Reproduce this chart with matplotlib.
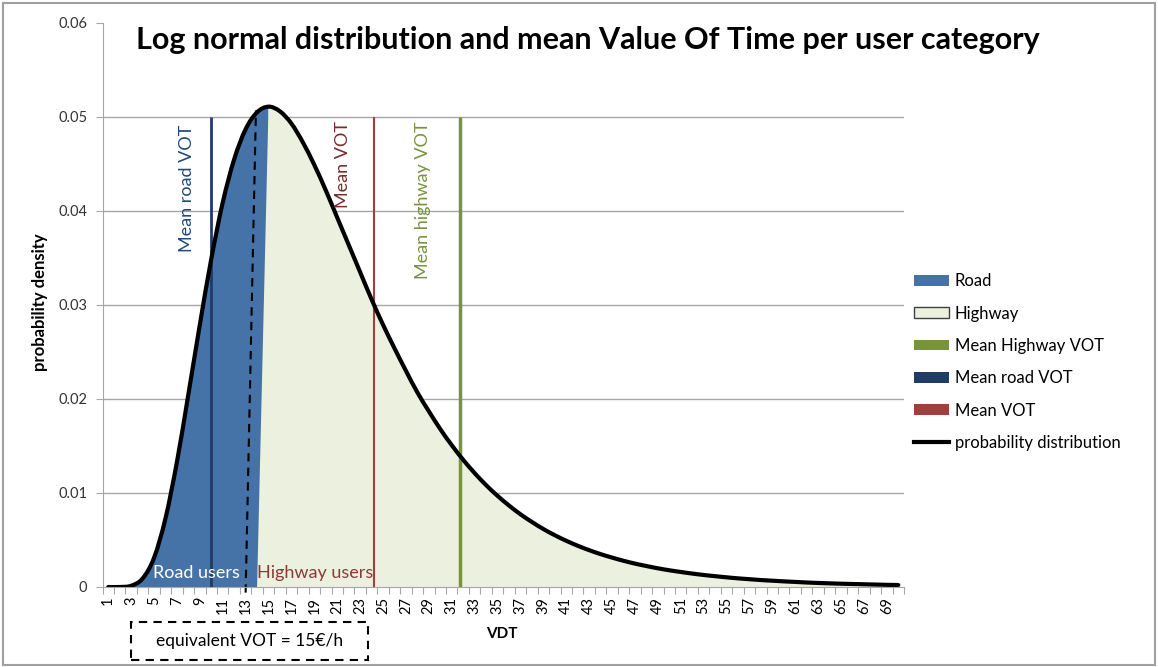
import matplotlib
matplotlib.use("Agg")
import matplotlib.pyplot as plt
from matplotlib.patches import Patch, Rectangle, PathPatch
from matplotlib.lines import Line2D
from matplotlib.path import Path

plt.rcParams['font.family'] = ['Lato', 'DejaVu Sans']

# VDT categories on the x axis and the log normal density
vdt = list(range(1, 71))
density = [0.0000, 0.0000, 0.00013, 0.0009, 0.0031, 0.0073, 0.0133, 0.0205, 0.0279, 0.0349,
           0.0409, 0.0455, 0.0487, 0.0505, 0.0511, 0.0506, 0.0493, 0.0473, 0.0449, 0.0422,
           0.0393, 0.0364, 0.0335, 0.0306, 0.0279, 0.0254, 0.0230, 0.0207, 0.0187, 0.0168,
           0.01509, 0.01353, 0.01212, 0.01084, 0.0097, 0.00867, 0.00774, 0.00692, 0.00617, 0.00551,
           0.00492, 0.00439, 0.00392, 0.0035, 0.00313, 0.00279, 0.00249, 0.00223, 0.00199, 0.00178,
           0.0016, 0.00143, 0.00128, 0.00115, 0.00103, 0.00092, 0.00083, 0.00074, 0.00067, 0.0006,
           0.00054, 0.00048, 0.00043, 0.00039, 0.00035, 0.00032, 0.00029, 0.00026, 0.00023, 0.00021]

split = 15  # road area ends / highway area starts at this category

mean_road_vot = 10.0
mean_vot = 24.2
mean_highway_vot = 31.7
equivalent_vot = (13.0, 13.9)  # dashed line bottom/top position

y_ticks = [0, 0.01, 0.02, 0.03, 0.04, 0.05, 0.06]
y_labels = ['0', '0.01', '0.02', '0.03', '0.04', '0.05', '0.06']

c_road = '#4572A7'
c_highway = '#EBF1DE'
c_hw_line = '#77933C'
c_road_line = '#1F3B66'
c_vot_line = '#A0403C'
grey = '#A6A6A6'


def smooth_segments(xs, ys):
    """Bezier pieces through the points, like the Excel smoothed line."""
    verts, codes = [(xs[0], ys[0])], [Path.MOVETO]
    n = len(xs)
    for i in range(n - 1):
        x0, y0 = xs[max(i - 1, 0)], ys[max(i - 1, 0)]
        x1, y1 = xs[i], ys[i]
        x2, y2 = xs[i + 1], ys[i + 1]
        x3, y3 = xs[min(i + 2, n - 1)], ys[min(i + 2, n - 1)]
        verts += [(x1 + (x2 - x0) / 6, y1 + (y2 - y0) / 6),
                  (x2 - (x3 - x1) / 6, y2 - (y3 - y1) / 6),
                  (x2, y2)]
        codes += [Path.CURVE4] * 3
    return verts, codes


W, H = 1158, 667
fig = plt.figure(figsize=(W / 100, H / 100), dpi=100)
ax = fig.add_axes([102.5 / W, 1 - 587 / H, (904 - 102.5) / W, (587 - 23) / H])

k = vdt.index(split)
# road area: curve up to the split, then down to the axis
rv, rc = smooth_segments(vdt[:k + 1], density[:k + 1])
rv += [(split + 1, 0), (vdt[0], 0), (vdt[0], 0)]
rc += [Path.LINETO, Path.LINETO, Path.CLOSEPOLY]
ax.add_patch(PathPatch(Path(rv, rc), facecolor=c_road, lw=0, zorder=2))
# highway area: from the axis at split-1 up to the curve and along it
hv, hc = smooth_segments(vdt[k:], density[k:])
hv = [(split - 1, 0)] + hv + [(vdt[-1], 0), (split - 1, 0)]
hc = [Path.MOVETO, Path.LINETO] + hc[1:] + [Path.LINETO, Path.CLOSEPOLY]
ax.add_patch(PathPatch(Path(hv, hc), facecolor=c_highway, lw=0, zorder=3))

ax.vlines(mean_road_vot, 0, 0.05, color=c_road_line, lw=2, zorder=4)
ax.vlines(mean_vot, 0, 0.05, color=c_vot_line, lw=1.5, zorder=4)
ax.vlines(mean_highway_vot, 0, 0.05, color=c_hw_line, lw=2.5, zorder=4)
ax.plot(equivalent_vot, [-0.0006, 0.0507], color='black', ls=(0, (4, 3)), lw=1.5,
        zorder=5, clip_on=False)
cv, cc = smooth_segments(vdt, density)
ax.add_patch(PathPatch(Path(cv, cc), facecolor='none', edgecolor='black', lw=3,
                       capstyle='round', zorder=6))

ax.set_xlim(0.5, 70.5)
ax.set_ylim(0, 0.06)
for y in y_ticks[1:-1]:
    ax.axhline(y, color=grey, lw=1, zorder=1)
for s in ['top', 'right']:
    ax.spines[s].set_visible(False)
for s in ['left', 'bottom']:
    ax.spines[s].set_color(grey)
    ax.spines[s].set_zorder(7)

ax.set_yticks(y_ticks)
ax.set_yticklabels(y_labels, fontsize=10.5, color='#333333')
ax.tick_params(axis='y', length=5, color=grey, pad=6)
ax.set_xticks([v + 0.5 for v in range(0, 71)])
ax.set_xticklabels([])
ax.tick_params(axis='x', which='major', length=5, color=grey)
ax.set_xticks(vdt[::2], minor=True)
ax.set_xticklabels([str(v) for v in vdt[::2]], minor=True, rotation=90, fontsize=10.5)
ax.tick_params(axis='x', which='minor', length=0, pad=7)

ax.text(8.67, 0.0015, 'Road users', color='white', fontsize=13, ha='center', va='center', zorder=8)
ax.text(19.1, 0.0015, 'Highway users', color='#8B3A38', fontsize=13, ha='center', va='center', zorder=8)
ax.text(7.9, 0.0424, 'Mean road VOT', color='#1F497D', fontsize=13, rotation=90,
        ha='center', va='center', zorder=8)
ax.text(21.5, 0.0449, 'Mean VOT', color='#772C2A', fontsize=13, rotation=90,
        ha='center', va='center', zorder=8)
ax.text(28.46, 0.0411, 'Mean highway VOT', color=c_hw_line, fontsize=13, rotation=90,
        ha='center', va='center', zorder=8)

fig.text(588 / W, 1 - 40 / H, 'Log normal distribution and mean Value Of Time per user category',
         fontsize=22, fontweight='bold', ha='center', va='center')
fig.text(40 / W, 1 - 302 / H, 'probability density', fontsize=12, fontweight='bold',
         rotation=90, ha='center', va='center')
fig.text(502 / W, 1 - 634 / H, 'VDT', fontsize=11, fontweight='bold', ha='center', va='center')

# dashed box with the equivalent VOT
fig.patches.append(Rectangle((131 / W, 1 - 660 / H), 237 / W, 38 / H, transform=fig.transFigure,
                             fill=False, ls=(0, (4, 3)), lw=1.5, edgecolor='black'))
fig.text(249.5 / W, 1 - 641 / H, 'equivalent VOT = 15€/h', fontsize=12.5, ha='center', va='center')

# outer frame of the chart area
fig.patches.append(Rectangle((3 / W, 2 / H), (W - 6) / W, (H - 5) / H, transform=fig.transFigure,
                             fill=False, lw=1.5, edgecolor='#A0A0A0'))

handles = [Patch(facecolor=c_road, edgecolor='none', label='Road'),
           Patch(facecolor=c_highway, edgecolor='#404040', label='Highway'),
           Patch(facecolor=c_hw_line, edgecolor='none', label='Mean Highway VOT'),
           Patch(facecolor=c_road_line, edgecolor='none', label='Mean road VOT'),
           Patch(facecolor=c_vot_line, edgecolor='none', label='Mean VOT'),
           Line2D([], [], color='black', lw=3, label='probability distribution')]
fig.legend(handles=handles, loc='center left', bbox_to_anchor=(899 / W, 1 - 362 / H),
           frameon=False, fontsize=12, handlelength=2.1, handleheight=0.6,
           handletextpad=0.36, labelspacing=0.98)

fig.savefig('out.png', dpi=100)
